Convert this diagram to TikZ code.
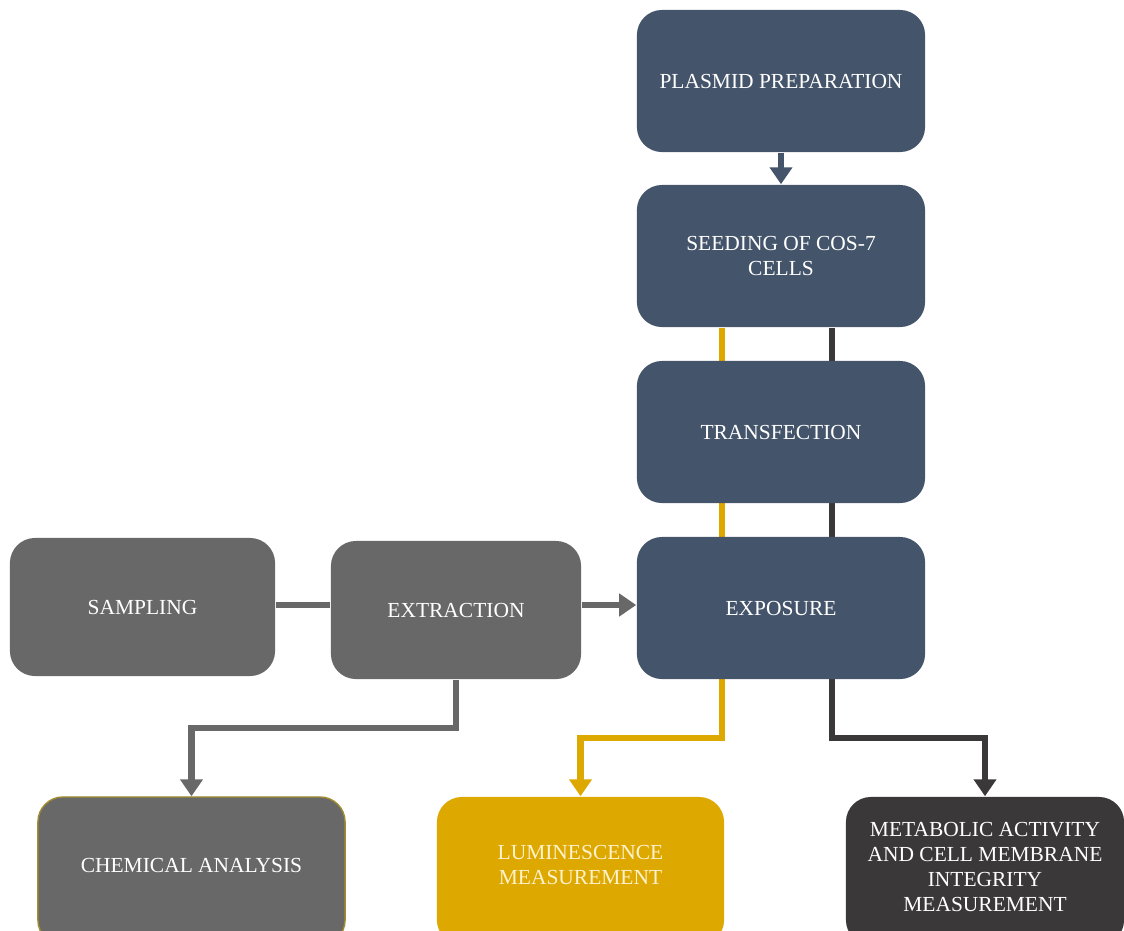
\documentclass[tikz,border=0pt]{standalone}
\usepackage{fontspec}
\setmainfont{Liberation Serif}
\usetikzlibrary{arrows.meta,backgrounds,calc}
\definecolor{navy}{HTML}{44546A}
\definecolor{grayb}{HTML}{686868}
\definecolor{yel}{HTML}{DDA800}
\definecolor{blk}{HTML}{3A3838}
\definecolor{cream}{HTML}{FFF2CC}
\definecolor{olive}{HTML}{A08C30}
\begin{document}
\begin{tikzpicture}[x=0.01cm,y=-0.01cm,
  box/.style={rounded corners=0.25cm,inner sep=0pt,align=center,text=white,
    font=\fontsize{6.1pt}{7.1pt}\selectfont},
  navybox/.style={box,fill=navy},
  graybox/.style={box,fill=grayb},
  conn/.style={line width=0.065cm},
  tip/.style={-{Triangle[length=0.17cm,width=0.22cm]}}]
\clip (0,0) rectangle (1124,930);
% boxes
\node[navybox,minimum width=2.88cm,minimum height=1.42cm] (plas) at (781,81) {PLASMID PREPARATION};
\node[navybox,minimum width=2.88cm,minimum height=1.42cm] (seed) at (781,256) {SEEDING OF COS-7\\CELLS};
\node[navybox,minimum width=2.88cm,minimum height=1.42cm] (trans) at (781,432) {TRANSFECTION};
\node[navybox,minimum width=2.88cm,minimum height=1.42cm] (expo) at (781,608) {EXPOSURE};
\node[graybox,minimum width=2.65cm,minimum height=1.38cm] (samp) at (142.5,607) {SAMPLING};
\node[graybox,minimum width=2.50cm,minimum height=1.38cm] (extr) at (456,610) {EXTRACTION};
\node[graybox,draw=olive,line width=0.4pt,minimum width=3.07cm,minimum height=1.48cm] (chem) at (191.5,871) {\raisebox{1.2ex}{CHEMICAL ANALYSIS}};
\node[box,fill=yel,text=cream,minimum width=2.87cm,minimum height=1.48cm] (lum) at (580.5,871) {\raisebox{1.2ex}{\shortstack{LUMINESCENCE\\MEASUREMENT}}};
\node[box,fill=blk,minimum width=2.78cm,minimum height=1.48cm] (meta) at (985,871) {\raisebox{0.8ex}{\shortstack{METABOLIC ACTIVITY\\AND CELL MEMBRANE\\INTEGRITY\\MEASUREMENT}}};
% connectors
\begin{scope}[on background layer]
\draw[conn,yel,tip] ([xshift=-0.59cm]seed.south) -- ++(0,410) coordinate (ybend) -| (lum.north);
\draw[conn,blk,tip] ([xshift=0.51cm]seed.south) -- ++(0,410) coordinate (dbend) -| (meta.north);
\end{scope}
\draw[conn,navy,tip] (plas.south) -- (seed.north);
\draw[conn,grayb] (samp.east |- 0,605) -- (extr.west |- 0,605);
\draw[conn,grayb,tip] (extr.east |- 0,605) -- (expo.west |- 0,605);
\draw[conn,grayb,tip] (extr.south) -- ++(0,48) coordinate (gbend) -| (chem.north);
\end{tikzpicture}
\end{document}
